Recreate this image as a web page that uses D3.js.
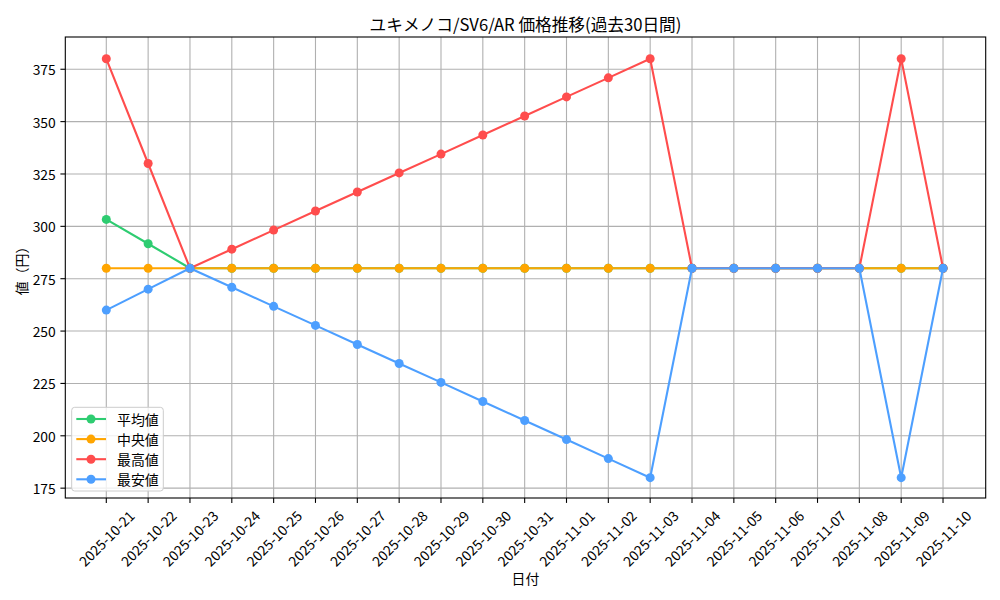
<!DOCTYPE html>
<html><head><meta charset="utf-8">
<script src="https://cdn.jsdelivr.net/npm/d3@7"></script>
<style>
html,body{margin:0;padding:0;background:#fff;}
text{font-family:"Noto Sans CJK JP","Noto Sans",sans-serif;fill:#000;}
</style></head>
<body><svg id="c" width="1000" height="600"></svg>
<script>
const dates = ["2025-10-21","2025-10-22","2025-10-23","2025-10-24","2025-10-25","2025-10-26","2025-10-27","2025-10-28","2025-10-29","2025-10-30","2025-10-31","2025-11-01","2025-11-02","2025-11-03","2025-11-04","2025-11-05","2025-11-06","2025-11-07","2025-11-08","2025-11-09","2025-11-10"];
const avgValues = [303.3,291.7,280,280,280,280,280,280,280,280,280,280,280,280,280,280,280,280,280,280,280];
const medianValues = [280,280,280,280,280,280,280,280,280,280,280,280,280,280,280,280,280,280,280,280,280];
const maxValues = [380,330,280,289.1,298.2,307.3,316.4,325.5,334.5,343.6,352.7,361.8,370.9,380,280,280,280,280,280,380,280];
const minValues = [260,270,280,270.9,261.8,252.7,243.6,234.5,225.5,216.4,207.3,198.2,189.1,180,280,280,280,280,280,180,280];
const yTicks = [175,200,225,250,275,300,325,350,375];
const seriesNames = ["平均値","中央値","最高値","最安値"];
const seriesColors = ["#2ecc71","#ffa500","#ff4d4d","#4d9fff"];
const titleText = "ユキメノコ/SV6/AR 価格推移(過去30日間)";
const xLabel = "日付";
const yLabel = "値（円）";

const series = [avgValues, medianValues, maxValues, minValues];
const svg = d3.select("#c");
const L = 65.3, R = 985.7, T = 37, B = 498;
const x = d3.scaleLinear().domain([-0.98, dates.length - 1 + 1.02]).range([L, R]);
const y = d3.scaleLinear().domain([170.3, 390.4]).range([B, T]);

// grid
const g = svg.append("g");
g.selectAll(".vg").data(dates).enter().append("line")
  .attr("x1",(d,i)=>x(i)).attr("x2",(d,i)=>x(i)).attr("y1",T).attr("y2",B)
  .attr("stroke","#b0b0b0").attr("stroke-width",1.1);
g.selectAll(".hg").data(yTicks).enter().append("line")
  .attr("x1",L).attr("x2",R).attr("y1",d=>y(d)).attr("y2",d=>y(d))
  .attr("stroke","#b0b0b0").attr("stroke-width",1.1);

// series
const line = d3.line().x((d,i)=>x(i)).y(d=>y(d));
series.forEach((s,k)=>{
  svg.append("path").datum(s).attr("d",line).attr("fill","none")
    .attr("stroke",seriesColors[k]).attr("stroke-width",2.1).attr("stroke-linejoin","round");
  svg.append("g").selectAll("circle").data(s).enter().append("circle")
    .attr("cx",(d,i)=>x(i)).attr("cy",d=>y(d)).attr("r",4.5).attr("fill",seriesColors[k]);
});

// frame
svg.append("rect").attr("x",L).attr("y",T).attr("width",R-L).attr("height",B-T)
  .attr("fill","none").attr("stroke","#000").attr("stroke-width",1.1);

// y axis ticks
const yAx = svg.append("g");
yTicks.forEach(t=>{
  yAx.append("line").attr("x1",L-4.9).attr("x2",L).attr("y1",y(t)).attr("y2",y(t)).attr("stroke","#000").attr("stroke-width",1.1);
  yAx.append("text").attr("x",L-9.5).attr("y",y(t)).attr("text-anchor","end")
    .attr("dominant-baseline","central").attr("font-size",13.9).text(t);
});
// x axis ticks
const xAx = svg.append("g");
dates.forEach((d,i)=>{
  xAx.append("line").attr("x1",x(i)).attr("x2",x(i)).attr("y1",B).attr("y2",B+4.9).attr("stroke","#000").attr("stroke-width",1.1);
  const t = xAx.append("text").attr("font-size",13.9).attr("text-anchor","middle")
    .attr("dominant-baseline","central").text(d);
  const len = t.node().getComputedTextLength();
  const half = (len + 13.9) * Math.SQRT1_2 / 2;
  t.attr("transform",`translate(${x(i)},${B+9.8+half}) rotate(-45)`);
});

// labels
svg.append("text").attr("x",(L+R)/2).attr("y",578).attr("text-anchor","middle")
  .attr("dominant-baseline","central").attr("font-size",13.9).text(xLabel);
svg.append("text").attr("transform",`translate(21,${(T+B)/2}) rotate(-90)`).attr("text-anchor","middle")
  .attr("dominant-baseline","central").attr("font-size",13.9).text(yLabel);
svg.append("text").attr("x",(L+R)/2).attr("y",24).attr("text-anchor","middle")
  .attr("dominant-baseline","central").attr("font-size",16.67).text(titleText);

// legend
const lg = svg.append("g");
lg.append("rect").attr("x",71.7).attr("y",407.3).attr("width",91.6).attr("height",83.7)
  .attr("rx",3).attr("fill","#fff").attr("fill-opacity",0.8).attr("stroke","#cccccc").attr("stroke-width",1);
seriesNames.forEach((n,k)=>{
  const yy = 419 + k*20.1;
  lg.append("line").attr("x1",76.3).attr("x2",106).attr("y1",yy).attr("y2",yy)
    .attr("stroke",seriesColors[k]).attr("stroke-width",2.1);
  lg.append("circle").attr("cx",91).attr("cy",yy).attr("r",4.5).attr("fill",seriesColors[k]);
  lg.append("text").attr("x",117).attr("y",yy).attr("dominant-baseline","central")
    .attr("font-size",13.9).text(n);
});
</script></body></html>
